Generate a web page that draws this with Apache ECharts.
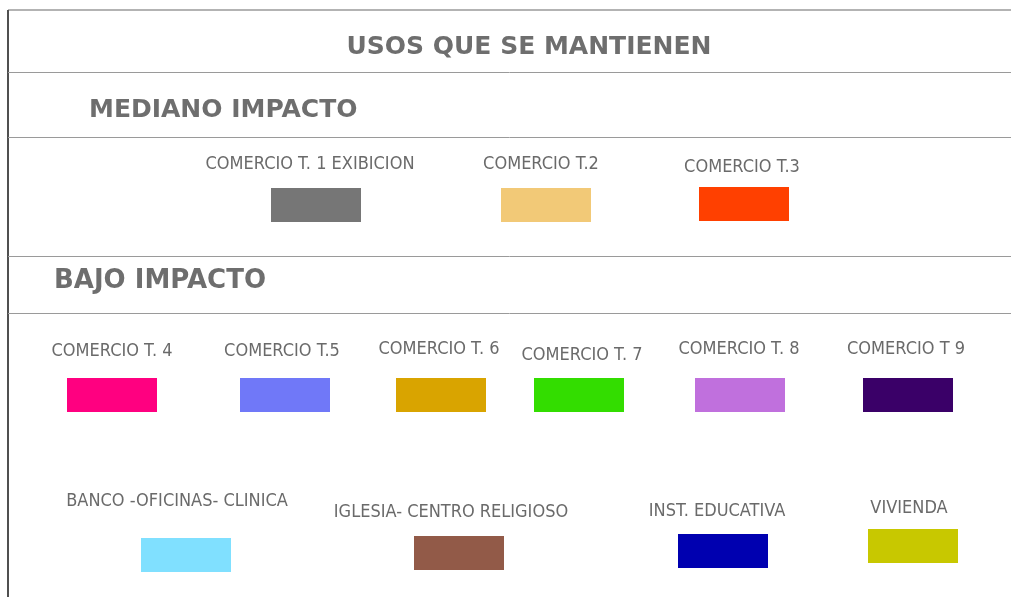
<!DOCTYPE html>
<html>
<head>
<meta charset="utf-8">
<script src="https://cdn.jsdelivr.net/npm/echarts@6/dist/echarts.min.js"></script>
<style>html,body{margin:0;padding:0;background:#fff}#c{width:1011px;height:597px}</style>
</head>
<body>
<div id="c"></div>
<script>
// ---- data ----
var mainTitle = 'USOS QUE SE MANTIENEN';
var groupTitles = ['MEDIANO IMPACTO', 'BAJO IMPACTO'];
var categories = [
  'COMERCIO T. 1 EXIBICION', 'COMERCIO T.2', 'COMERCIO T.3',
  'COMERCIO T. 4', 'COMERCIO T.5', 'COMERCIO T. 6', 'COMERCIO T. 7', 'COMERCIO T. 8', 'COMERCIO T 9',
  'BANCO -OFICINAS- CLINICA', 'IGLESIA- CENTRO RELIGIOSO', 'INST. EDUCATIVA', 'VIVIENDA'
];
var colors = [
  '#767676', '#F2C977', '#FF4000',
  '#FF0080', '#7078F8', '#D9A400', '#33DD00', '#C070DD', '#3A0068',
  '#80E0FF', '#925A48', '#0000B0', '#C8C800'
];
// ---- layout (pixel positions of swatch centres and label centres) ----
var boxX   = [316, 546, 744, 112, 285, 441, 579, 740, 908, 186, 459, 723, 913];
var boxY   = [205, 205, 204, 395, 395, 395, 395, 395, 395, 555, 553, 551, 546];
var labelX = [310, 541, 742, 112, 282, 439, 582, 739, 906, 177, 451, 717, 909];
var labelY = [164, 164, 167, 351, 351, 349, 355, 349, 349, 501, 512, 511, 508];
var hLines = [72, 137, 256, 313];

var chart = echarts.init(document.getElementById('c'), null, {renderer: 'canvas'});
var boxData = categories.map(function (c, i) {
  return {name: c, value: [boxX[i], boxY[i]], itemStyle: {color: colors[i], opacity: 1}};
});
var labelData = categories.map(function (c, i) {
  return {name: c, value: [labelX[i], labelY[i]]};
});
var labelFont = '"Liberation Sans Narrow", "DejaVu Sans Condensed", sans-serif';
var headFont = 'bold 25px "DejaVu Sans", Verdana, sans-serif';
var graphics = [
  {type: 'line', shape: {x1: 8, y1: 10, x2: 1011, y2: 10}, style: {stroke: '#9a9a9a', lineWidth: 1.5}},
  {type: 'line', shape: {x1: 8, y1: 10, x2: 8, y2: 597}, style: {stroke: '#505050', lineWidth: 2}}
];
hLines.forEach(function (y) {
  graphics.push({type: 'line', shape: {x1: 8, y1: y + 0.5, x2: 1011, y2: y + 0.5}, style: {stroke: '#9a9a9a', lineWidth: 1}});
});
graphics.push({type: 'text', x: 529, y: 47, style: {text: mainTitle, fill: '#6e6e6e', font: headFont, textAlign: 'center', textVerticalAlign: 'middle'}});
graphics.push({type: 'text', x: 89, y: 110, style: {text: groupTitles[0], fill: '#6e6e6e', font: headFont, textAlign: 'left', textVerticalAlign: 'middle'}});
graphics.push({type: 'text', x: 54, y: 281, style: {text: groupTitles[1], fill: '#6e6e6e', font: 'bold 26px "DejaVu Sans", Verdana, sans-serif', textAlign: 'left', textVerticalAlign: 'middle'}});

chart.setOption({
  animation: false,
  backgroundColor: '#ffffff',
  grid: {left: 0, right: 0, top: 0, bottom: 0},
  xAxis: {type: 'value', min: 0, max: 1011, show: false},
  yAxis: {type: 'value', min: 0, max: 597, inverse: true, show: false},
  graphic: graphics,
  series: [
    {
      type: 'scatter', symbol: 'rect', symbolSize: [90, 34], data: boxData,
      itemStyle: {opacity: 1}, silent: true
    },
    {
      type: 'scatter', symbolSize: 0, data: labelData, silent: true,
      itemStyle: {opacity: 1},
      label: {
        show: true, position: 'inside', formatter: '{b}', color: '#6a6a6a',
        fontFamily: labelFont, fontSize: 18, opacity: 1
      }
    }
  ]
});
</script>
</body>
</html>
